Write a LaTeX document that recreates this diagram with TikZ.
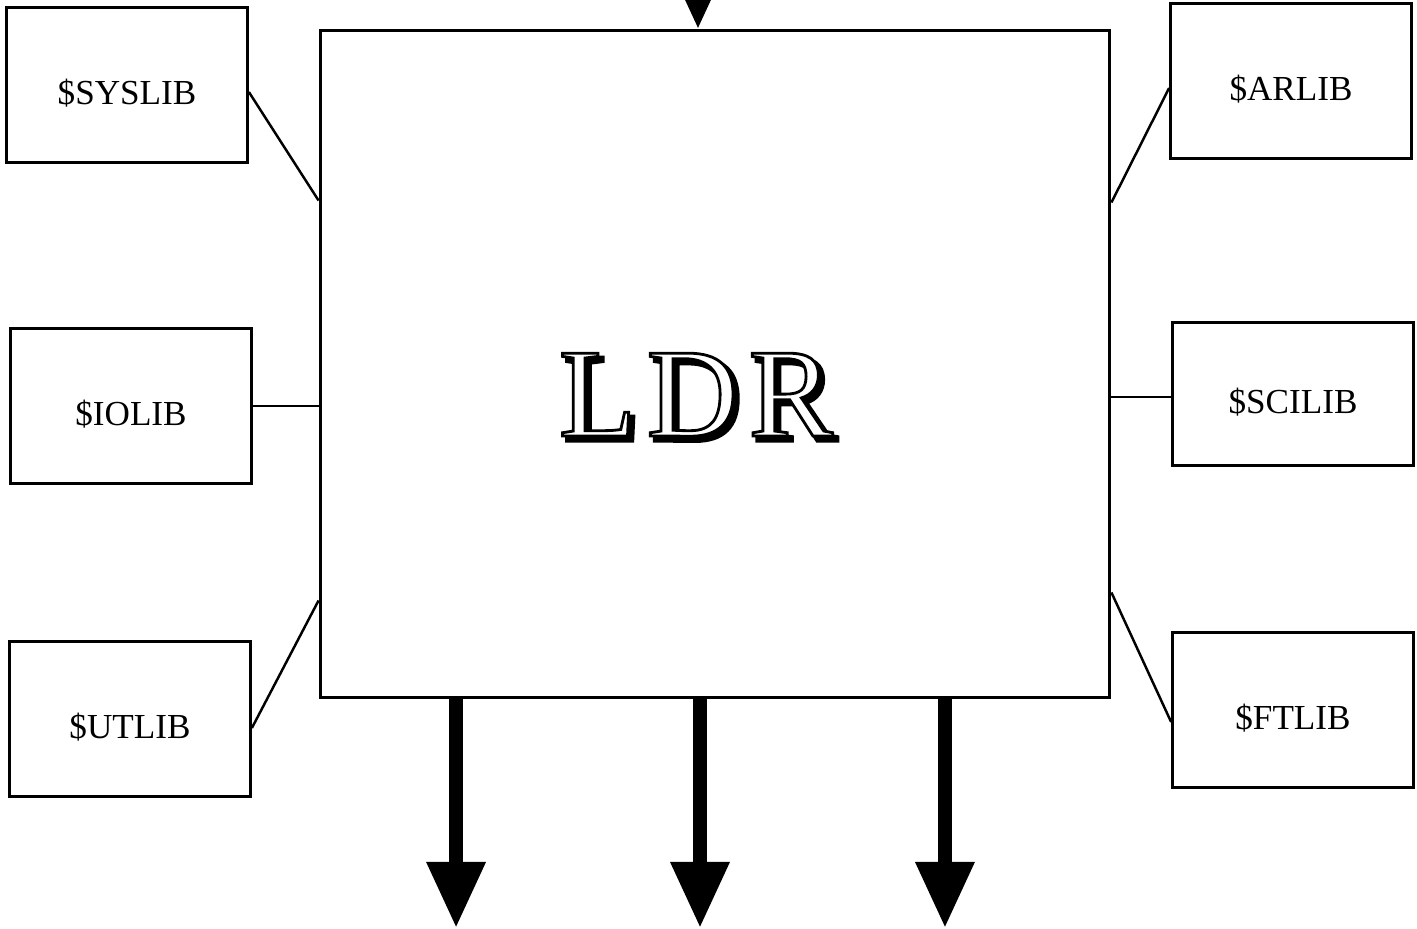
\documentclass[tikz,border=0pt]{standalone}
\usepackage{fontspec}
\setmainfont{Liberation Serif}
\usetikzlibrary{positioning,arrows.meta,calc}
\tikzset{
  lib/.style={draw, line width=1.6pt, minimum width=4.82cm, minimum height=3.1cm,
              inner sep=0pt, text height=26pt, text depth=4pt,
              font=\fontsize{20}{24}\selectfont},
  core/.style={draw, line width=1.7pt, minimum width=15.8cm, minimum height=13.34cm},
  link/.style={line width=1.4pt},
  big/.style={-{Triangle[width=1.12cm,length=1.32cm]}, line width=7.5pt},
  ldrtxt/.style={font=\fontsize{72}{80}\selectfont, inner sep=0pt, anchor=base},
}
% stroked glyphs: fill in the current colour, outline in black
\newcommand\strokedtext[2]{\special{pdf:code 0 G 2 Tr #1 w}#2\special{pdf:code 0 Tr}}

\begin{document}
\begin{tikzpicture}[x=0.02cm, y=-0.02cm]
  \useasboundingbox (0,0) rectangle (1417,929);
  \clip (0,0) rectangle (1417,929);

  % the loader and its libraries
  \node[core] (ldr) at (715,364) {};
  \node[lib] (sys) at (127,85)   {\$SYSLIB};
  \node[lib] (io)  at (131,406)  {\$IOLIB};
  \node[lib] (utl) at (130,719)  {\$UTLIB};
  \node[lib] (ar)  at (1291,81)  {\$ARLIB};
  \node[lib, minimum height=2.86cm] (sci) at (1293,394) {\$SCILIB};
  \node[lib] (ft)  at (1293,710) {\$FTLIB};

  \draw[link] ([yshift=-0.14cm]sys.east) -- ([yshift=3.27cm]ldr.west);
  \draw[link] (io.east) -- (io.east -| ldr.west);
  \draw[link] ([yshift=-0.18cm]utl.east) -- ([yshift=-4.73cm]ldr.west);
  \draw[link] ([yshift=-0.14cm]ar.west) -- ([yshift=3.23cm]ldr.east);
  \draw[link] ([yshift=-0.06cm]sci.west) -- ([yshift=-0.06cm]sci.west -| ldr.east);
  \draw[link] ([yshift=-0.24cm]ft.west) -- ([yshift=-4.57cm]ldr.east);

  % input from above, three outputs below
  \coordinate (feed) at (698,-200);
  \draw[big] (feed) -- ([xshift=-0.34cm]ldr.north);
  \foreach \s/\n in {-5.18/outa, -0.3/outb, 4.6/outc} {
    \coordinate (\n) at ([xshift=\s cm, yshift=-4.58cm]ldr.south);
    \draw[big] ([xshift=\s cm]ldr.south) -- (\n);
  }

  % engraved title: heavy shadow, then white face with thin outline
  \coordinate (mid) at (696,436);
  \node[ldrtxt] (shade) at ([xshift=2.6pt, yshift=-2.6pt]mid)
    {\strokedtext{2.4}{L\hspace{6pt}D\hspace{6pt}R}};
  \node[ldrtxt, text=white] (word) at (mid)
    {\strokedtext{1.6}{L\hspace{6pt}D\hspace{6pt}R}};
\end{tikzpicture}
\end{document}
